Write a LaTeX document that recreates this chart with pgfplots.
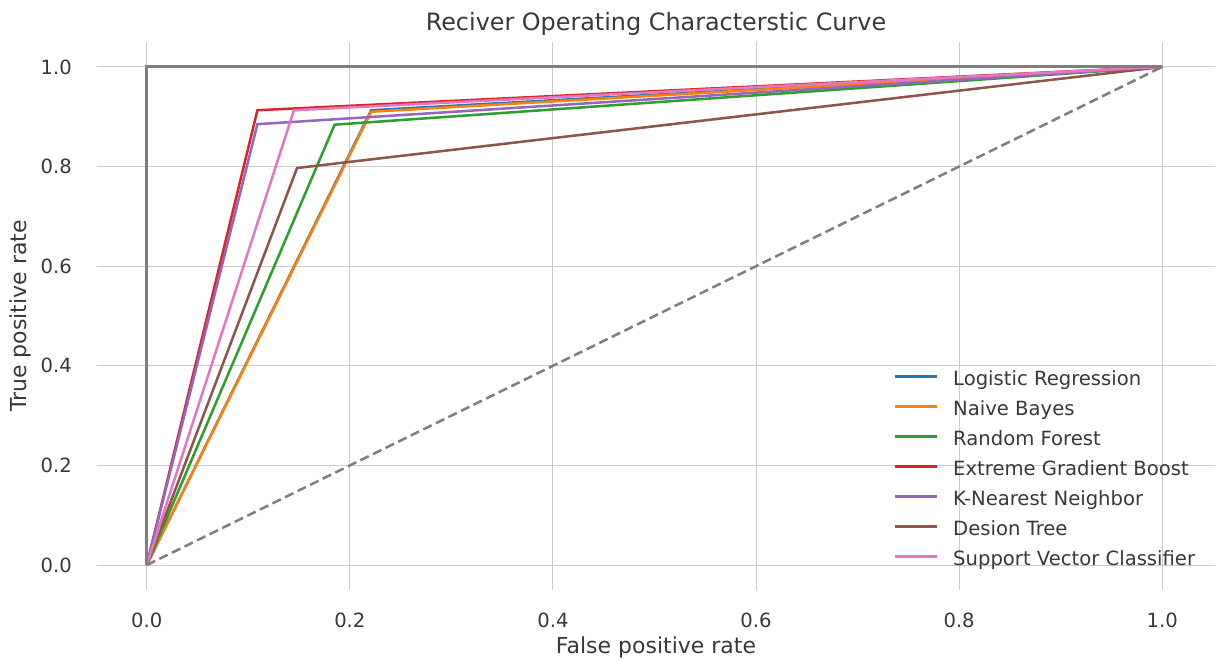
\documentclass[border=0pt]{standalone}
\usepackage{pgfplots}
\pgfplotsset{compat=1.18}
\usepackage{fontspec}
\setmainfont{DejaVu Sans}
\definecolor{tabblue}{HTML}{1F77B4}
\definecolor{taborange}{HTML}{FF7F0E}
\definecolor{tabgreen}{HTML}{2CA02C}
\definecolor{tabred}{HTML}{D62728}
\definecolor{tabpurple}{HTML}{9467BD}
\definecolor{tabbrown}{HTML}{8C564B}
\definecolor{tabpink}{HTML}{E377C2}
\definecolor{tabgray}{HTML}{7F7F7F}
\definecolor{txt}{HTML}{383838}
\definecolor{gridc}{HTML}{CCCCCC}
\begin{document}
\begin{tikzpicture}
\begin{axis}[
  name=ax,
  scale only axis,
  width=838.5pt, height=411pt,
  xmin=-0.049, xmax=1.052, ymin=-0.05, ymax=1.05,
  xtick={0,0.2,0.4,0.6,0.8,1.0},
  ytick={0,0.2,0.4,0.6,0.8,1.0},
  xticklabels={0.0,0.2,0.4,0.6,0.8,1.0},
  yticklabels={0.0,0.2,0.4,0.6,0.8,1.0},
  major tick length=0pt,
  axis line style={draw=none},
  grid=major,
  major grid style={draw=gridc, line width=0.75pt},
  tick label style={font=\fontsize{14.7}{17}\selectfont, text=txt, inner sep=0pt},
  xticklabel style={anchor=base, yshift=-28pt},
  yticklabel style={anchor=east, xshift=-18.75pt},
  title={Reciver Operating Characterstic Curve},
  every axis title shift=0pt,
  title style={at={(axis description cs:0.5,1.0205)}, anchor=base, yshift=0pt, font=\fontsize{17.9}{20}\selectfont, text=txt},
  xlabel={False positive rate},
  ylabel={True positive rate},
  xlabel style={at={(axis description cs:0.5,-0.115)}, anchor=base, font=\fontsize{16.5}{19}\selectfont, text=txt},
  ylabel style={at={(axis description cs:-0.0689,0.5)}, anchor=center, font=\fontsize{16.5}{19}\selectfont, text=txt},
  legend style={at={(axis description cs:0.986,0.030)}, anchor=south east, draw=none, fill=none,
    font=\fontsize{14.7}{17}\selectfont, text=txt, row sep=8pt,
    nodes={inner sep=0pt, text height=11pt, text depth=3.5pt},
    /tikz/every odd column/.append style={column sep=11.25pt}},
  legend cell align=left,
  legend image code/.code={\draw[#1, line width=1.9pt] (0pt,3.5pt) -- (31.5pt,3.5pt);},
  every axis plot/.append style={line width=1.9pt},
]
\addplot[tabblue] coordinates {(0,0) (0.221,0.913) (1,1)};
\addlegendentry{Logistic Regression}
\addplot[taborange] coordinates {(0,0) (0.221,0.910) (1,1)};
\addlegendentry{Naive Bayes}
\addplot[tabgreen] coordinates {(0,0) (0.185,0.884) (1,1)};
\addlegendentry{Random Forest}
\addplot[tabred] coordinates {(0,0) (0.109,0.913) (1,1)};
\addlegendentry{Extreme Gradient Boost}
\addplot[tabpurple] coordinates {(0,0) (0.109,0.885) (1,1)};
\addlegendentry{K-Nearest Neighbor}
\addplot[tabbrown] coordinates {(0,0) (0.148,0.797) (1,1)};
\addlegendentry{Desion Tree}
\addplot[tabpink] coordinates {(0,0) (0.145,0.913) (1,1)};
\addlegendentry{Support Vector Classifier}
\addplot[tabgray, line width=2.2pt, forget plot] coordinates {(0,0) (0,1) (1,1)};
\addplot[tabgray, dashed, dash pattern=on 7pt off 3.5pt, forget plot] coordinates {(0,0) (1,1)};
\end{axis}
\pgfresetboundingbox
\path ([xshift=-72.75pt,yshift=-51.75pt]ax.south west) rectangle ([xshift=3.75pt,yshift=31.5pt]ax.north east);
\end{tikzpicture}
\end{document}
